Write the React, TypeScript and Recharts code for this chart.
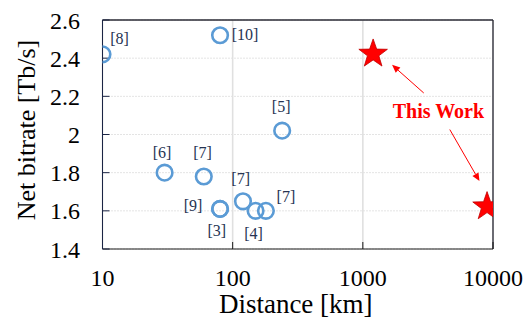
import React from 'react';
import {
  ScatterChart, Scatter, XAxis, YAxis, CartesianGrid, ReferenceLine, ReferenceDot,
} from 'recharts';

// ---- data ----
const refLabels = ['[8]', '[10]', '[5]', '[6]', '[7]', '[9]', '[3]', '[7]', '[4]', '[7]'];
const refDistanceKm = [10, 80, 240, 30, 60, 80, 80, 120, 150, 180];
const refBitrateTbps = [2.42, 2.52, 2.02, 1.8, 1.78, 1.61, 1.61, 1.65, 1.6, 1.6];

const thisWorkDistanceKm = [1200, 9000];
const thisWorkBitrateTbps = [2.43, 1.63];

const xTicks = [10, 100, 1000, 10000];
const yTicks = [1.4, 1.6, 1.8, 2, 2.2, 2.4, 2.6];

const annotationText = 'This Work';
const annotationAt = { x: 3810, y: 2.121 };
const arrowTails = [{ x: 2938, y: 2.2175 }, { x: 4656, y: 2.026 }];
const arrowTips = [{ x: 1677, y: 2.365 }, { x: 7870, y: 1.756 }];

// ---- styles (label offsets in px, per reference point) ----
const labelOffsets = [
  [17, -16], [25, -1], [-1, -24], [-2.6, -20], [-1.3, -24],
  [-27, -4], [-3.3, 21], [-2.3, -23], [-2, 23], [20, -14],
];

const refData = refDistanceKm.map((x, i) => ({ x, y: refBitrateTbps[i], label: refLabels[i] }));
const starData = thisWorkDistanceKm.map((x, i) => ({ x, y: thisWorkBitrateTbps[i] }));

const FONT = '"Liberation Serif", "Times New Roman", serif';
const BLUE = '#5B9BD5';
const RED = '#FF0000';
const LABEL_COLOR = '#263352';

const RefShape = (props: any) => {
  const { cx, cy, index } = props;
  if (cx == null || cy == null) return null;
  const off = labelOffsets[index] || [0, 0];
  return (
    <g>
      <circle cx={cx} cy={cy} r={7.8} fill="none" stroke={BLUE} strokeWidth={2.6} />
      <text
        x={cx + off[0]}
        y={cy + off[1]}
        dy="0.35em"
        textAnchor="middle"
        fontFamily={FONT}
        fontSize={16}
        fill={LABEL_COLOR}
      >
        {refLabels[index]}
      </text>
    </g>
  );
};

const StarShape = (props: any) => {
  const { cx, cy } = props;
  if (cx == null || cy == null) return null;
  const R = 15;
  const r = 6;
  const pts: string[] = [];
  for (let k = 0; k < 10; k++) {
    const rad = k % 2 === 0 ? R : r;
    const a = ((-90 + k * 36) * Math.PI) / 180;
    pts.push(`${cx + rad * Math.cos(a)},${cy + 1.5 + rad * Math.sin(a)}`);
  }
  return <polygon points={pts.join(' ')} fill={RED} stroke="#C00000" strokeWidth={0.8} />;
};

const ArrowShape = (props: any) => {
  const { x1, y1, x2, y2 } = props;
  if ([x1, y1, x2, y2].some((v) => v == null || isNaN(v))) return null;
  const dx = x2 - x1;
  const dy = y2 - y1;
  const len = Math.sqrt(dx * dx + dy * dy);
  const ux = dx / len;
  const uy = dy / len;
  const hl = 8;
  const hw = 3.5;
  const bx = x2 - ux * hl;
  const by = y2 - uy * hl;
  const p1 = `${bx - uy * hw},${by + ux * hw}`;
  const p2 = `${bx + uy * hw},${by - ux * hw}`;
  return (
    <g>
      <line x1={x1} y1={y1} x2={bx} y2={by} stroke={RED} strokeWidth={1} />
      <polygon points={`${x2},${y2} ${p1} ${p2}`} fill={RED} />
    </g>
  );
};

const AnnotationShape = (props: any) => {
  const { cx, cy } = props;
  if (cx == null || cy == null) return null;
  return (
    <text x={cx} y={cy} dy="0.35em" textAnchor="middle" fontFamily={FONT} fontSize={20}
      fontWeight="bold" fill={RED}>
      {annotationText}
    </text>
  );
};

const YLabel = (props: any) => {
  const vb = props.viewBox || {};
  const x = (vb.x || 0) + 26;
  const y = (vb.y || 0) + (vb.height || 0) / 2 - 4.5;
  return (
    <text x={x} y={y} transform={`rotate(-90, ${x}, ${y})`} dy="0.35em" textAnchor="middle"
      fontFamily={FONT} fontSize={26} fill="#000">
      Net bitrate [Tb/s]
    </text>
  );
};

const XLabel = (props: any) => {
  const vb = props.viewBox || {};
  const x = (vb.x || 0) + (vb.width || 0) / 2 - 2;
  const y = 313;
  return (
    <text x={x} y={y} textAnchor="middle" fontFamily={FONT} fontSize={27} fill="#000">
      Distance [km]
    </text>
  );
};

export default function App() {
  return (
    <div style={{ position: 'absolute', left: 0, top: 0, width: 526, height: 324, background: '#fff' }}>
      <ScatterChart width={526} height={324} margin={{ top: 20, right: 33, bottom: 25, left: 0 }}>
        <CartesianGrid horizontal={true} vertical={false} stroke="#c8c8c8" strokeDasharray="1 2" />
        <CartesianGrid horizontal={false} vertical={true} stroke="#e0e0e0" strokeWidth={1.6} />
        <XAxis
          dataKey="x"
          type="number"
          scale="log"
          domain={[10, 10000]}
          ticks={xTicks}
          allowDataOverflow
          height={50}
          tickSize={-7}
          tickMargin={26.5}
          stroke="#1a1a1a"
          tick={{ fontFamily: FONT, fontSize: 24, fill: '#000' }}
          label={<XLabel />}
        />
        <YAxis
          dataKey="y"
          type="number"
          domain={[1.4, 2.6]}
          ticks={yTicks}
          allowDataOverflow
          width={102.5}
          tickSize={-7}
          tickMargin={29.5}
          stroke="#1b2545"
          tick={{ fontFamily: FONT, fontSize: 24, fill: '#000' }}
          label={<YLabel />}
        />
        <ReferenceLine y={2.6} stroke="#2a2a35" strokeWidth={1.3} />
        <ReferenceLine x={10000} stroke="#2a2a35" strokeWidth={1.3} />
        {arrowTails.map((t, i) => (
          <ReferenceLine key={`arrow-${i}`} segment={[t, arrowTips[i]]} shape={ArrowShape} />
        ))}
        <ReferenceDot x={annotationAt.x} y={annotationAt.y} r={0} shape={AnnotationShape} />
        <Scatter data={refData} shape={RefShape} isAnimationActive={false} />
        <Scatter data={starData} shape={StarShape} isAnimationActive={false} />
      </ScatterChart>
    </div>
  );
}
